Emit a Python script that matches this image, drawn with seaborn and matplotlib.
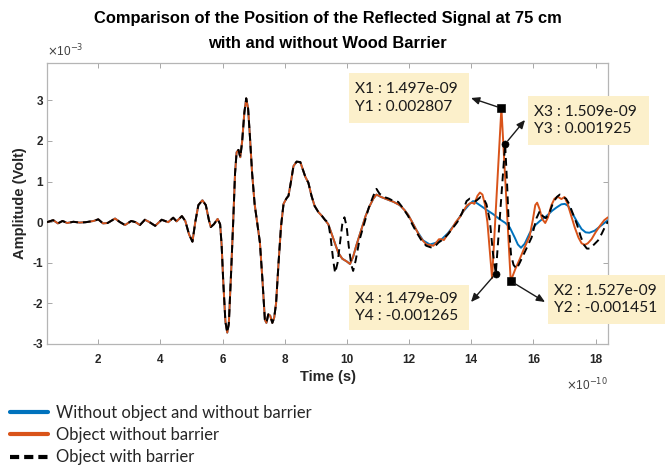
import matplotlib
matplotlib.use("Agg")
import matplotlib.pyplot as plt
import seaborn as sns
import pandas as pd
from matplotlib.lines import Line2D
from matplotlib.patches import Rectangle

# ---------------- data (time in 1e-10 s, amplitude in 1e-3 V) ----------------
t_common = [0.35, 0.55, 0.70, 0.85, 1.00, 1.20, 1.40, 1.60, 1.85, 2.00, 2.15, 2.30, 2.54, 2.70,
            2.86, 3.06, 3.20, 3.34, 3.50, 3.65, 3.83, 4.04, 4.25, 4.41, 4.52, 4.69, 4.80, 4.92,
            5.03, 5.12, 5.22, 5.35, 5.46, 5.56, 5.62, 5.72, 5.84, 5.92, 5.97, 6.02, 6.09, 6.15,
            6.20, 6.27, 6.34, 6.40, 6.45, 6.51, 6.57, 6.63, 6.70, 6.76, 6.82, 6.88, 6.95, 7.03,
            7.12, 7.20, 7.28, 7.36, 7.41, 7.47, 7.53, 7.60, 7.66, 7.72, 7.80, 7.88, 7.96, 8.05,
            8.12, 8.20, 8.28, 8.38, 8.50, 8.58, 8.66, 8.76, 8.86, 8.96, 9.08, 9.20, 9.30]
a_common = [0.00, 0.05, -0.03, 0.03, -0.02, 0.01, -0.01, 0.00, 0.03, 0.07, -0.03, -0.02, 0.09, 0.00,
            -0.07, 0.03, 0.00, -0.07, 0.06, 0.00, -0.09, 0.06, 0.00, 0.11, 0.02, 0.15, 0.03, -0.30,
            -0.48, 0.00, 0.42, 0.54, 0.42, 0.05, -0.12, -0.05, 0.08, -0.05, -0.58, -1.45, -2.45, -2.72,
            -2.50, -1.30, 0.00, 1.20, 1.72, 1.78, 1.60, 2.00, 2.70, 3.05, 2.80, 2.10, 1.20, 0.45,
            -0.05, -0.50, -1.40, -2.40, -2.48, -2.27, -2.30, -2.48, -2.35, -2.00, -1.00, -0.10, 0.45, 0.58,
            0.65, 1.00, 1.38, 1.49, 1.48, 1.30, 1.12, 0.97, 0.65, 0.40, 0.25, 0.15, 0.05]

# shared by the two "without barrier" signals
t_shared = [9.40, 9.56, 9.72, 9.85, 10.00, 10.10, 10.20, 10.30, 10.47, 10.60, 10.72, 10.85, 10.95,
            11.10, 11.30, 11.50, 11.70, 11.85, 11.97, 12.10]
a_shared = [-0.05, -0.40, -0.75, -0.90, -0.97, -1.03, -0.85, -0.58, -0.17, 0.15, 0.38, 0.58, 0.68,
            0.62, 0.56, 0.50, 0.42, 0.30, 0.18, 0.00]

t_blue_tail = [12.24, 12.45, 12.67, 12.85, 13.05, 13.25, 13.50, 13.75, 13.95, 14.06, 14.20, 14.35,
               14.50, 14.70, 14.92, 15.10, 15.24, 15.40, 15.50, 15.60, 15.72, 15.88, 16.05, 16.21,
               16.42, 16.60, 16.74, 16.90, 17.01, 17.12, 17.25, 17.39, 17.55, 17.68, 17.80, 17.97,
               18.15, 18.40]
a_blue_tail = [-0.20, -0.45, -0.55, -0.51, -0.42, -0.27, -0.02, 0.27, 0.45, 0.52, 0.46, 0.38,
               0.30, 0.20, 0.07, -0.02, -0.13, -0.38, -0.55, -0.63, -0.53, -0.27, -0.08, 0.03,
               0.15, 0.28, 0.36, 0.44, 0.45, 0.40, 0.22, 0.03, -0.17, -0.25, -0.26, -0.21,
               -0.10, 0.05]

t_orange_tail = [12.24, 12.35, 12.45, 12.56, 12.67, 12.78, 12.88, 12.96, 13.04, 13.12, 13.22, 13.37,
                 13.50, 13.63, 13.75, 13.85, 13.95, 14.03, 14.10, 14.20, 14.28, 14.36, 14.44, 14.52,
                 14.60, 14.67, 14.97, 15.27, 15.42, 15.56, 15.70, 15.88, 15.98, 16.06, 16.12, 16.20,
                 16.28, 16.38, 16.47, 16.58, 16.68, 16.80, 16.90, 17.00, 17.10, 17.20, 17.33, 17.45,
                 17.55, 17.65, 17.75, 17.87, 18.00, 18.15, 18.28, 18.40]
a_orange_tail = [-0.20, -0.36, -0.46, -0.55, -0.56, -0.58, -0.50, -0.42, -0.42, -0.44, -0.32, -0.17,
                 0.00, 0.12, 0.28, 0.40, 0.46, 0.48, 0.45, 0.65, 0.73, 0.68, 0.44, 0.00,
                 -0.75, -1.38, 2.807, -1.451, -1.15, -0.91, -0.65, -0.34, 0.05, 0.42, 0.48, 0.32,
                 0.08, -0.02, 0.12, 0.42, 0.58, 0.62, 0.57, 0.62, 0.45, 0.20, -0.13, -0.38,
                 -0.52, -0.56, -0.52, -0.42, -0.25, -0.08, 0.05, 0.12]

t_black_tail = [9.40, 9.48, 9.56, 9.62, 9.70, 9.78, 9.85, 9.92, 9.99, 10.06, 10.14, 10.20, 10.28,
                10.40, 10.55, 10.70, 10.85, 10.95, 11.05, 11.20, 11.35, 11.50, 11.65, 11.80, 11.97,
                12.10, 12.24, 12.40, 12.55, 12.70, 12.80, 12.95, 13.10, 13.25, 13.40, 13.55, 13.70,
                13.85, 13.95, 14.05, 14.15, 14.30, 14.42, 14.49, 14.60, 14.65, 14.70, 14.79, 15.09,
                15.15, 15.21, 15.28, 15.36, 15.46, 15.56, 15.72, 15.94, 16.10, 16.21, 16.30, 16.40,
                16.50, 16.62, 16.75, 16.85, 16.95, 17.05, 17.15, 17.25, 17.40, 17.52, 17.62, 17.72,
                17.82, 17.95, 18.08, 18.20, 18.30, 18.40]
a_black_tail = [0.00, -0.40, -0.95, -1.25, -1.00, -0.50, -0.05, 0.12, -0.10, -0.60, -1.05, -1.20, -0.95,
                -0.45, -0.05, 0.35, 0.65, 0.82, 0.70, 0.62, 0.58, 0.52, 0.50, 0.35, 0.15,
                -0.05, -0.25, -0.45, -0.58, -0.62, -0.62, -0.50, -0.42, -0.30, -0.15, 0.00, 0.22,
                0.52, 0.58, 0.55, 0.52, 0.62, 0.55, 0.44, 0.03, -0.37, -0.78, -1.265, 1.925,
                1.00, -0.10, -0.80, -1.05, -1.15, -1.00, -0.74, -0.38, 0.10, 0.28, 0.15, 0.10,
                0.20, 0.45, 0.62, 0.68, 0.62, 0.58, 0.45, 0.25, -0.05, -0.35, -0.55, -0.65,
                -0.65, -0.55, -0.45, -0.28, -0.12, 0.02]

series_labels = ["Without object and without barrier", "Object without barrier", "Object with barrier"]
series_colors = ["#0072BD", "#D95319", "#000000"]

# data tips
tip_names = ["1", "2", "3", "4"]
tip_t = [14.97, 15.27, 15.09, 14.79]
tip_a = [2.807, -1.451, 1.925, -1.265]

x_ticks = [2, 4, 6, 8, 10, 12, 14, 16, 18]
y_ticks = [-3, -2, -1, 0, 1, 2, 3]

title_lines = ["Comparison of the Position of the Reflected Signal at 75 cm",
               "with and without Wood Barrier"]

# ---------------- build frames ----------------
blue_df = pd.DataFrame({"t": t_common + t_shared + t_blue_tail,
                        "a": a_common + a_shared + a_blue_tail})
orange_df = pd.DataFrame({"t": t_common + t_shared + t_orange_tail,
                          "a": a_common + a_shared + a_orange_tail})
black_df = pd.DataFrame({"t": t_common + t_black_tail,
                         "a": a_common + a_black_tail})

sns.set_style("white")
plt.rcParams["font.family"] = ["Liberation Sans", "DejaVu Sans"]

W, H = 666, 471
fig = plt.figure(figsize=(W / 100, H / 100), dpi=100)
ax = fig.add_axes([47 / W, 1 - 344 / H, (608 - 47) / W, (344 - 63) / H])

sns.lineplot(data=blue_df, x="t", y="a", ax=ax, color=series_colors[0], lw=1.4,
             estimator=None, sort=False, zorder=2)
sns.lineplot(data=orange_df, x="t", y="a", ax=ax, color=series_colors[1], lw=1.4,
             estimator=None, sort=False, zorder=3)
sns.lineplot(data=black_df, x="t", y="a", ax=ax, color=series_colors[2], lw=1.4,
             linestyle=(0, (4.0, 2.6)), estimator=None, sort=False, zorder=4)

# data tip markers
sns.scatterplot(x=tip_t[:2], y=tip_a[:2], ax=ax, marker="s", s=30, color="black",
                edgecolor="black", zorder=6)
sns.scatterplot(x=tip_t[2:], y=tip_a[2:], ax=ax, marker="o", s=26, color="black",
                edgecolor="black", zorder=6)

ax.set_xlim(0.35, 18.4)
ax.set_ylim(-3.0, 3.92)
ax.set_xticks(x_ticks)
ax.set_yticks(y_ticks)
ax.set_xticklabels([str(v) for v in x_ticks], fontweight="bold", fontsize=8.5, color="#262626")
ax.set_yticklabels([str(v) for v in y_ticks], fontweight="bold", fontsize=8.5, color="#262626")
ax.tick_params(axis="both", direction="in", length=3.5, width=0.6, color="#9a9a9a",
               top=True, right=True, bottom=True, left=True)
ax.tick_params(axis="x", pad=7)
ax.tick_params(axis="y", pad=3)
for s in ax.spines.values():
    s.set_color("#b5b5b5")
    s.set_linewidth(0.9)

ax.set_xlabel("Time (s)", fontweight="bold", fontsize=10.5, color="#262626", labelpad=3)
ax.set_ylabel("Amplitude (Volt)", fontweight="bold", fontsize=10.5, color="#262626", labelpad=4)

ax.text(0.0, 1.012, r"$\times$10$^{-3}$", transform=ax.transAxes, ha="left", va="bottom",
        fontsize=8.5, color="#404040")
ax.text(1.0, -0.115, r"$\times$10$^{-10}$", transform=ax.transAxes, ha="right", va="top",
        fontsize=8.5, color="#404040")

fig.text(327.5 / W, 1 - 18 / H, title_lines[0], ha="center", va="center",
         fontweight="bold", fontsize=11.9, color="black")
fig.text(327.5 / W, 1 - 44 / H, title_lines[1], ha="center", va="center",
         fontweight="bold", fontsize=11.9, color="black")

# data tip boxes (image pixel positions: left, top, width, height) and arrow heads
boxes = [(349, 73, 120, 50), (548, 275, 117, 49), (528, 96, 121, 49), (349, 285, 120, 45)]
heads = [(471, 98), (545, 302), (525, 120), (471, 302)]
box_face = "#FCF0CB"
for i in range(4):
    bx, by, bw, bh = boxes[i]
    fig.patches.append(Rectangle((bx / W, 1 - (by + bh) / H), bw / W, bh / H,
                                 transform=fig.transFigure, facecolor=box_face,
                                 edgecolor="none", zorder=5))
    txt = (f"X{tip_names[i]} : {tip_t[i] * 1e-10:.3e}\n"
           f"Y{tip_names[i]} : {tip_a[i] * 1e-3:.6f}")
    fig.text((bx + 6) / W, 1 - (by + bh / 2) / H, txt, ha="left", va="center",
             fontsize=11.2, family=["Lato", "DejaVu Sans"], color="#1a1a1a",
             linespacing=1.35, zorder=6)
    hx, hy = heads[i]
    ax.annotate("", xy=(hx, H - hy), xycoords="figure pixels",
                xytext=(tip_t[i], tip_a[i]), textcoords="data",
                arrowprops=dict(arrowstyle="-|>,head_length=0.5,head_width=0.22",
                                color="#1a1a1a", lw=1.0, shrinkA=3, shrinkB=0),
                zorder=7)

# legend
handles = [Line2D([], [], color=series_colors[0], lw=3.0),
           Line2D([], [], color=series_colors[1], lw=3.0),
           Line2D([], [], color=series_colors[2], lw=3.0, linestyle=(0, (2.2, 1.2)))]
leg = fig.legend(handles, series_labels, loc="upper left",
                 bbox_to_anchor=(3 / W, 1 - 398 / H), frameon=False,
                 prop={"family": ["Lato", "DejaVu Sans"], "size": 12},
                 handlelength=2.3, handletextpad=0.5, labelspacing=0.38, borderaxespad=0)

fig.savefig("out.png", dpi=100)
